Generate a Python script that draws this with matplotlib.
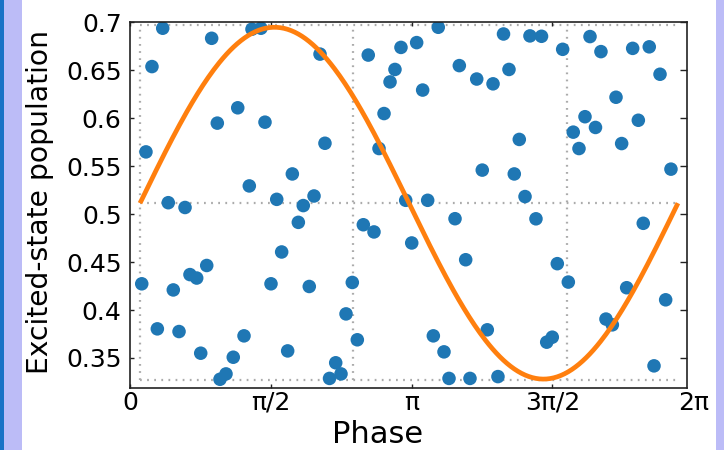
"""Excited-state population vs. phase, scatter with sinusoidal fit."""
import numpy as np
import matplotlib
matplotlib.use("Agg")
import matplotlib.pyplot as plt
import matplotlib.patches as patches
import matplotlib.transforms as mtransforms

# measured points (phase in rad, population)
phase = [0.245, 0.365, 0.911, 1.361, 1.461, 2.120, 1.202, 0.974, 1.506, 0.178,
         2.175, 1.331, 1.811, 1.637, 2.053, 1.933, 0.427, 0.614, 1.878, 1.692,
         0.856, 0.669, 0.744, 0.131, 0.483, 1.573, 2.000, 0.305, 0.547, 1.272,
         0.789, 1.759, 1.152, 1.071, 1.004, 2.658, 3.023, 3.198, 3.439, 4.167,
         2.956, 2.901, 3.265, 3.674, 3.868, 4.050, 4.228, 2.834, 2.778, 3.930,
         3.076, 3.321, 3.626, 2.603, 2.722, 3.143, 3.745, 2.480, 2.410, 2.536,
         3.986, 3.384, 3.503, 2.295, 2.226, 2.354, 3.559, 3.793, 4.105, 4.462,
         4.591, 4.827, 5.132, 5.254, 5.608, 5.793, 5.913, 5.422, 5.076, 5.671,
         5.193, 4.945, 5.009, 5.485, 4.343, 4.287, 6.035, 4.407, 4.529, 5.726,
         4.767, 4.890, 5.541, 5.976, 5.310, 5.381, 4.649, 4.711, 5.846]
population = [0.654, 0.694, 0.6835, 0.693, 0.694, 0.667, 0.611, 0.595, 0.596, 0.565,
              0.574, 0.5295, 0.542, 0.5155, 0.519, 0.509, 0.512, 0.507, 0.4915, 0.4606,
              0.4465, 0.437, 0.4334, 0.4274, 0.421, 0.4274, 0.4246, 0.3804, 0.3776, 0.3731,
              0.355, 0.3574, 0.3508, 0.3334, 0.3278, 0.666, 0.674, 0.679, 0.695, 0.688,
              0.651, 0.638, 0.6295, 0.655, 0.641, 0.636, 0.651, 0.605, 0.5685, 0.546,
              0.5145, 0.5145, 0.4953, 0.489, 0.4815, 0.470, 0.4525, 0.4288, 0.396, 0.369,
              0.3794, 0.3731, 0.3564, 0.345, 0.3287, 0.3334, 0.3287, 0.3287, 0.3306, 0.686,
              0.6856, 0.672, 0.6853, 0.6696, 0.673, 0.6746, 0.646, 0.622, 0.6017, 0.598,
              0.5905, 0.5856, 0.5685, 0.5737, 0.578, 0.542, 0.547, 0.5184, 0.4952, 0.4905,
              0.4484, 0.4292, 0.4233, 0.4107, 0.3906, 0.3846, 0.3665, 0.3717, 0.3418]

# sinusoidal fit
fit_offset = 0.5115
fit_amplitude = 0.1835
fit_start = 0.112
fit_end = 6.113

# dotted reference grid
ref_x = [0.112, 2.491, 4.872]
ref_y = [0.697, 0.512, 0.327]
ref_x_end = 6.136

xtick_pos = [0, np.pi / 2, np.pi, 3 * np.pi / 2]
xtick_labels = ["0", "π/2", "π", "3π/2"]
ytick_pos = [0.35, 0.4, 0.45, 0.5, 0.55, 0.6, 0.65, 0.7]
ytick_labels = ["0.35", "0.4", "0.45", "0.5", "0.55", "0.6", "0.65", "0.7"]

fig = plt.figure(figsize=(7.24, 4.5), dpi=100)
fig.patch.set_facecolor("white")

# side strips
fig.add_artist(patches.Rectangle((0, 0), 22 / 724, 1, transform=fig.transFigure,
                                 facecolor="#bcbcf7", edgecolor="none"))
fig.add_artist(patches.Rectangle((0, 0), 4 / 724, 1, transform=fig.transFigure,
                                 facecolor="#1a72c6", edgecolor="none"))
fig.add_artist(patches.Rectangle((716 / 724, 0), 8 / 724, 1, transform=fig.transFigure,
                                 facecolor="#bcbcf7", edgecolor="none"))

ax = fig.add_axes([130 / 724, 62 / 450, 557 / 724, 366 / 450])

for xv in ref_x:
    ax.plot([xv, xv], [ref_y[2], ref_y[0]], color="#ababab", lw=1.6,
            linestyle=(0, (0.8, 2.4)), zorder=1)
for yv in ref_y:
    ax.plot([ref_x[0], ref_x_end], [yv, yv], color="#ababab", lw=1.6,
            linestyle=(0, (0.8, 2.4)), zorder=1)

ax.scatter(phase, population, s=95, color="#1f77b4", edgecolors="none", zorder=2)

xs = np.linspace(fit_start, fit_end, 300)
ys = fit_offset + fit_amplitude * np.sin(2 * np.pi * (xs - fit_start) / (fit_end - fit_start))
ax.plot(xs, ys, color="#ff7f0e", lw=3.4, zorder=3, solid_capstyle="butt")

ax.set_xlim(0, 6.214)
ax.set_ylim(0.3187, 0.7005)

ax.set_xticks(xtick_pos)
ax.set_xticklabels(xtick_labels)
ax.set_yticks(ytick_pos)
ax.set_yticklabels(ytick_labels)
ax.tick_params(direction="in", length=3, width=1, labelsize=18, top=True, right=True,
               color="#222222")
ax.tick_params(axis="x", pad=2)
ax.tick_params(axis="y", pad=6)
for t in ax.yaxis.get_ticklines()[1::2]:
    t.set_markersize(5)

trans = mtransforms.blended_transform_factory(ax.transData, ax.transAxes)
ax.annotate("2π", xy=(2 * np.pi, 0), xycoords=trans, xytext=(0, -2.5),
            textcoords="offset points", ha="center", va="top", fontsize=18,
            annotation_clip=False)

for sp in ax.spines.values():
    sp.set_linewidth(1.2)
    sp.set_color("#222222")

ax.set_xlabel("Phase", fontsize=22)
ax.xaxis.set_label_coords((378 - 130) / 557, (388 - 443) / 366)
ax.xaxis.label.set_va("baseline")

ax.set_ylabel("Excited-state population", fontsize=20.3)
ax.yaxis.set_label_coords((48 - 130) / 557, 0.507)
ax.yaxis.label.set_va("baseline")

fig.savefig("out.png", dpi=100)
